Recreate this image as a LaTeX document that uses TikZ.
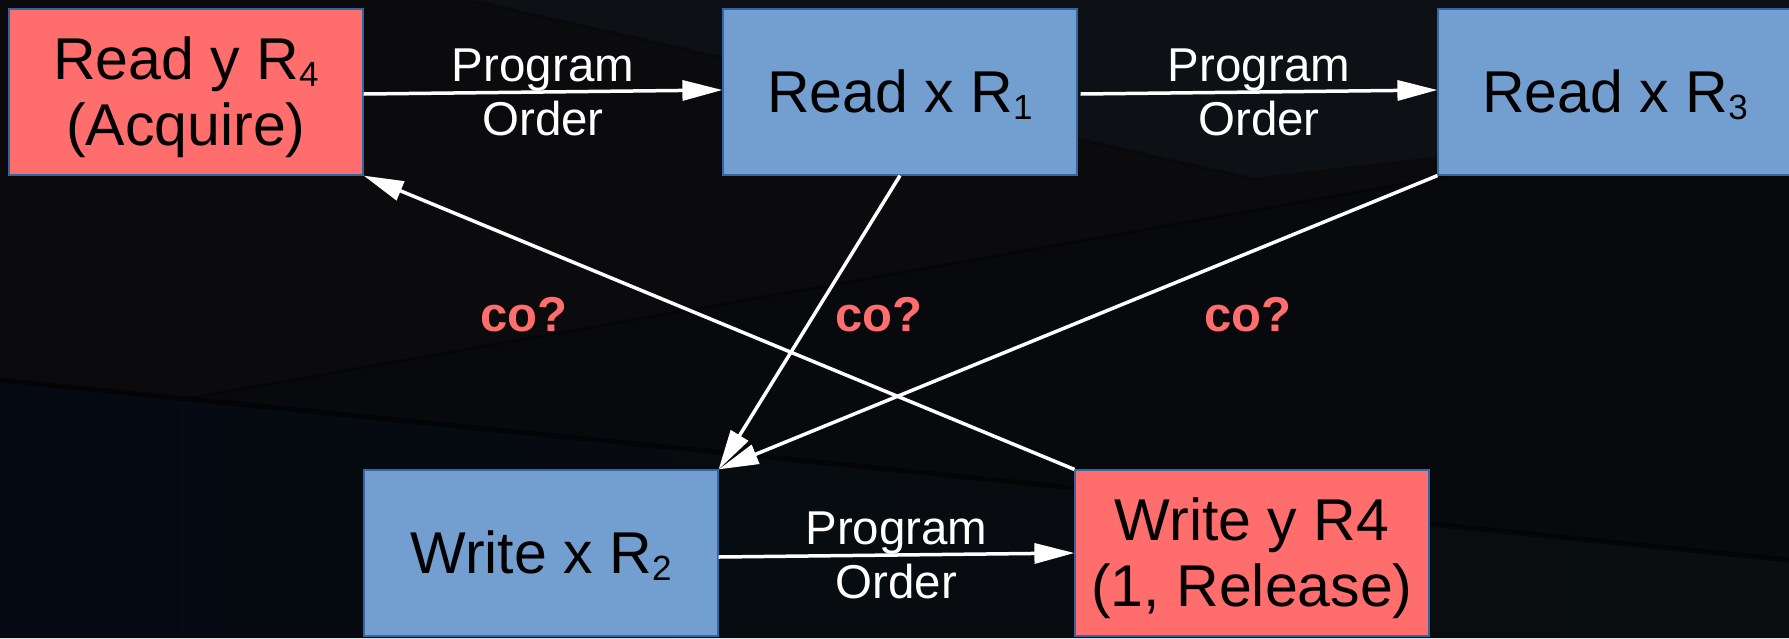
\documentclass[tikz,border=0pt]{standalone}
\usepackage{fontspec}
\setmainfont{Liberation Sans}
\usetikzlibrary{arrows.meta}

\definecolor{bgbase}{HTML}{0B0B0E}
\definecolor{bgtop}{HTML}{0D1014}
\definecolor{bgmid}{HTML}{07090D}
\definecolor{bglowl}{HTML}{050A12}
\definecolor{bglowr}{HTML}{0A0E0E}
\definecolor{boxblue}{HTML}{729FCF}
\definecolor{boxred}{HTML}{FF6D6D}
\definecolor{boxedge}{HTML}{3465A4}
\definecolor{cored}{HTML}{FF6D6D}

% smaller, lowered register index
\newcommand\regidx[1]{\raisebox{-0.12em}{\fontsize{35}{35}\selectfont #1}}
% box text, set a little below the optical centre
\newcommand\optext[1]{\raisebox{-7pt}[\height][\depth]{%
  \begin{tabular}{@{}c@{}}#1\end{tabular}}}

\tikzset{
  op/.style={draw=boxedge, line width=1.2pt, minimum width=354pt,
    minimum height=166pt, inner sep=0pt, text=black,
    font=\fontsize{59}{66}\selectfont},
  blueop/.style={op, fill=boxblue},
  redop/.style={op, fill=boxred},
  order/.style={draw=white, line width=3.5pt,
    -{Triangle[length=40pt,width=20pt]}},
  cross/.style={draw=white, line width=3.5pt,
    -{Triangle[length=40pt,width=20pt]}},
  polabel/.style={text=white, align=center, inner sep=0pt,
    font=\fontsize{47.5}{54}\selectfont},
  colabel/.style={text=cored, inner sep=0pt,
    font=\bfseries\fontsize{49}{49}\selectfont},
}

\begin{document}
\begin{tikzpicture}[x=1pt, y=-1pt]
\useasboundingbox (0,0) rectangle (1789,638);
\clip (0,0) rectangle (1789,638);

% backdrop
\fill[bgbase] (0,0) rectangle (1789,638);
\fill[bgtop] (470,0) -- (1789,0) -- (1789,116) -- (1250,178) -- cycle;
\fill[bgmid] (190,398) -- (1789,116) -- (1789,560) -- cycle;
\shade[left color=bglowl, right color=bglowr]
  (0,380) -- (1789,560) -- (1789,638) -- (0,638) -- cycle;
\draw[black, line width=5pt, opacity=0.5] (0,380) -- (1789,560);
\draw[black, line width=3pt, opacity=0.3] (190,398) -- (1789,116);
\draw[black, line width=3pt, opacity=0.25] (470,0) -- (1250,178);

% operations
\node[redop]  (ry)  at (186,92)   {\optext{Read y R\regidx{4}\\(Acquire)}};
\node[blueop] (rx1) at (900,92)   {\optext{Read x R\regidx{1}}};
\node[blueop] (rx3) at (1615,92)  {\optext{Read x R\regidx{3}}};
\node[blueop] (wx)  at (541,553)  {\optext{Write x R\regidx{2}}};
\node[redop]  (wy)  at (1252,553) {\optext{Write y R4\\(1, Release)}};

% program order
\draw[order] ([yshift=-2pt]ry.east) --
  node[polabel] (po1) {Program\\Order} ([yshift=2pt]rx1.west);
\draw[order] ([xshift=3pt,yshift=-2pt]rx1.east) --
  node[polabel] (po2) {Program\\Order} ([yshift=2pt]rx3.west);
\draw[order] ([yshift=-4pt]wx.east) --
  node[polabel] (po3) {Program\\Order} (wy.west);

% candidate coherence edges
\draw[cross] (rx1.south) -- (wx.north east);
\draw[cross] (rx3.south west) -- (wx.north east);
\draw[cross] (wy.north west) -- (ry.south east);

\node[colabel] (co1) at (524,315)  {co?};
\node[colabel] (co2) at (879,315)  {co?};
\node[colabel] (co3) at (1248,315) {co?};
\end{tikzpicture}
\end{document}
